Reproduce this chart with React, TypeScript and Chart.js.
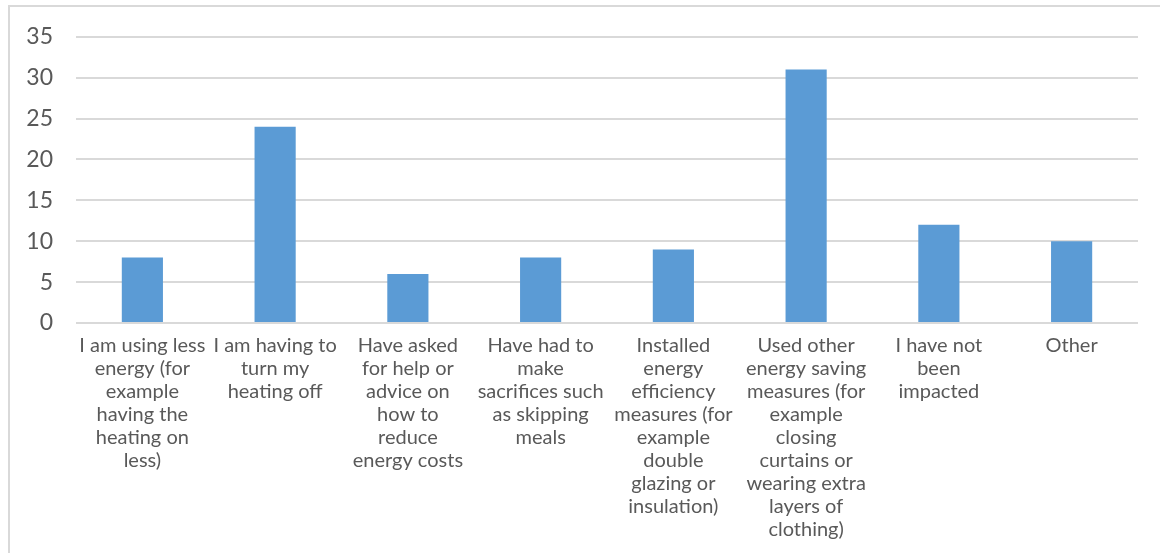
import React, { useEffect, useRef } from "react";
import { Chart, registerables } from "chart.js";

Chart.register(...registerables);

// Category labels, pre-wrapped into lines
const categories: string[][] = [
  ["I am using less", "energy (for", "example", "having the", "heating on", "less)"],
  ["I am having to", "turn my", "heating off"],
  ["Have asked", "for help or", "advice on", "how to", "reduce", "energy costs"],
  ["Have had to", "make", "sacrifices such", "as skipping", "meals"],
  ["Installed", "energy", "efficiency", "measures (for", "example", "double", "glazing or", "insulation)"],
  ["Used other", "energy saving", "measures (for", "example", "closing", "curtains or", "wearing extra", "layers of", "clothing)"],
  ["I have not", "been", "impacted"],
  ["Other"],
];

// Number of responses per category
const responses: number[] = [8, 24, 6, 8, 9, 31, 12, 10];

// Value axis range
const yMin = 0;
const yMax = 35;
const yStep = 5;

const FONT = "Lato, 'Noto Sans', sans-serif";
const TEXT = "#595959";
const GRID = "#D9D9D9";
const BAR = "#5B9BD5";

export default function App() {
  const canvasRef = useRef<HTMLCanvasElement | null>(null);

  useEffect(() => {
    const canvas = canvasRef.current;
    if (!canvas) return;
    const chart = new Chart(canvas, {
      type: "bar",
      data: {
        labels: categories,
        datasets: [
          {
            data: responses,
            backgroundColor: BAR,
            borderWidth: 0,
            categoryPercentage: 1,
            barPercentage: 0.31,
          },
        ],
      },
      options: {
        responsive: false,
        animation: false,
        events: [],
        layout: { padding: { left: 9, top: 36, right: 22, bottom: 0 } },
        plugins: {
          legend: { display: false },
          tooltip: { enabled: false },
          title: { display: false },
        },
        scales: {
          x: {
            offset: true,
            grid: { display: false, drawTicks: false },
            border: { display: false },
            ticks: {
              color: TEXT,
              font: { family: FONT, size: 20, lineHeight: 1.15 },
              maxRotation: 0,
              minRotation: 0,
              autoSkip: false,
              padding: 11,
            },
            afterFit: (scale: any) => {
              scale.height = 553 - 323;
            },
          },
          y: {
            min: yMin,
            max: yMax,
            grid: { color: GRID, lineWidth: 2, drawTicks: false },
            border: { display: false },
            ticks: {
              stepSize: yStep,
              color: TEXT,
              font: { family: FONT, size: 23 },
              padding: 23,
            },
            afterFit: (scale: any) => {
              scale.width = 76 - 9;
            },
          },
        },
      },
    });
    return () => chart.destroy();
  }, []);

  return (
    <div
      style={{
        position: "fixed",
        left: 0,
        top: 0,
        width: 1160,
        height: 553,
        overflow: "hidden",
        background: "#ffffff",
      }}
    >
      <div
        style={{
          position: "absolute",
          left: 8,
          top: 5,
          width: 1170,
          height: 570,
          border: `2px solid ${GRID}`,
          boxSizing: "border-box",
        }}
      />
      <canvas
        ref={canvasRef}
        width={1160}
        height={553}
        style={{ position: "absolute", left: 0, top: 0 }}
      />
    </div>
  );
}
